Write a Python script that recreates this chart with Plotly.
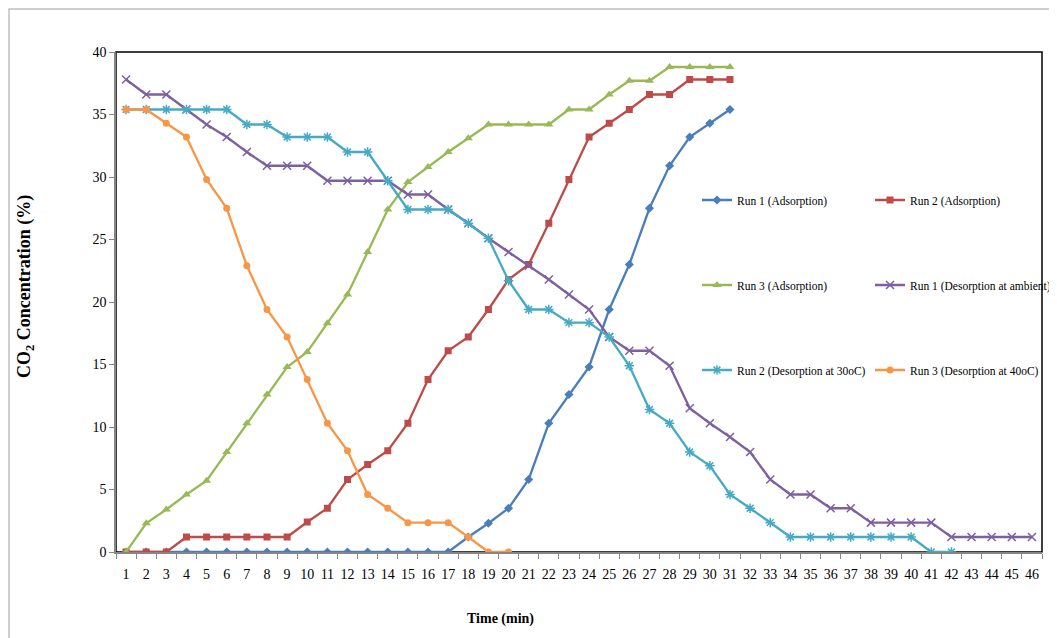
import plotly.graph_objects as go

time_labels = [str(i) for i in range(1, 47)]

run1_ads = [0, 0, 0, 0, 0, 0, 0, 0, 0, 0, 0, 0, 0, 0, 0, 0, 0, 1.2, 2.3, 3.5, 5.8, 10.3, 12.6, 14.8,
            19.4, 23.0, 27.5, 30.9, 33.2, 34.3, 35.4]
run2_ads = [0, 0, 0, 1.2, 1.2, 1.2, 1.2, 1.2, 1.2, 2.4, 3.5, 5.8, 7.0, 8.1, 10.3, 13.8, 16.1, 17.2,
            19.4, 21.8, 23.0, 26.3, 29.8, 33.2, 34.3, 35.4, 36.6, 36.6, 37.8, 37.8, 37.8]
run3_ads = [0, 2.3, 3.4, 4.6, 5.7, 8.0, 10.3, 12.6, 14.8, 16.0, 18.3, 20.6, 24.0, 27.4, 29.6, 30.8,
            32.0, 33.1, 34.2, 34.2, 34.2, 34.2, 35.4, 35.4, 36.6, 37.7, 37.7, 38.8, 38.8, 38.8, 38.8]
run1_des = [37.8, 36.6, 36.6, 35.4, 34.2, 33.2, 32.0, 30.9, 30.9, 30.9, 29.7, 29.7, 29.7, 29.7,
            28.6, 28.6, 27.4, 26.3, 25.1, 24.0, 22.9, 21.8, 20.6, 19.4, 17.2, 16.1, 16.1, 14.9,
            11.5, 10.3, 9.2, 8.0, 5.8, 4.6, 4.6, 3.5, 3.5, 2.35, 2.35, 2.35, 2.35, 1.2, 1.2, 1.2,
            1.2, 1.2]
run2_des = [35.4, 35.4, 35.4, 35.4, 35.4, 35.4, 34.2, 34.2, 33.2, 33.2, 33.2, 32.0, 32.0, 29.7,
            27.4, 27.4, 27.4, 26.3, 25.1, 21.7, 19.4, 19.4, 18.35, 18.35, 17.2, 14.9, 11.4, 10.3,
            8.0, 6.9, 4.6, 3.5, 2.35, 1.2, 1.2, 1.2, 1.2, 1.2, 1.2, 1.2, 0, 0]
run3_des = [35.4, 35.4, 34.3, 33.2, 29.8, 27.5, 22.9, 19.4, 17.2, 13.8, 10.3, 8.1, 4.6, 3.5, 2.35,
            2.35, 2.35, 1.2, 0, 0]

series = [
    ("Run 1 (Adsorption)", run1_ads, "#4A7EBB", "diamond", 7),
    ("Run 2 (Adsorption)", run2_ads, "#BE4B48", "square", 7),
    ("Run 3 (Adsorption)", run3_ads, "#98B954", "triangle-up", 8),
    ("Run 1 (Desorption at ambient)", run1_des, "#7D60A0", "x-thin-open", 8),
    ("Run 2 (Desorption at 30oC)", run2_des, "#46AAC5", "asterisk-open", 8),
    ("Run 3 (Desorption at 40oC)", run3_des, "#F79646", "circle", 7),
]

# The page body adds an 8px offset; figure is sized so the plot area lands at
# page x 116..1042 and y 52..552.
OFF = 8
L, R, T, B = 108, 15, 44, 86
W, H = 1049, 630
pw, ph = W - L - R, H - T - B


def px(x):
    return (x - OFF - L) / pw


def py(y):
    return (H - B + OFF - y) / ph


legend_ids = ["legend", "legend2", "legend3", "legend4", "legend5", "legend6"]

fig = go.Figure()
for (name, vals, color, sym, size), leg in zip(series, legend_ids):
    marker = dict(symbol=sym, size=size, color=color)
    if sym.endswith("-open"):
        marker["line"] = dict(width=1.5, color=color)
    fig.add_trace(go.Scatter(
        x=time_labels[:len(vals)], y=vals, name=name, mode="lines+markers",
        line=dict(color=color, width=2.3), marker=marker, legend=leg,
    ))

legfont = dict(family="Liberation Serif", size=11.5, color="#000000")
col_x = [px(697), px(870)]
row_y = [py(200), py(285), py(370)]
legends = {}
for k, leg in enumerate(legend_ids):
    legends[leg] = dict(orientation="v", xanchor="left", yanchor="middle", font=legfont,
                        bgcolor="rgba(0,0,0,0)", itemwidth=30,
                        x=col_x[k % 2], y=row_y[k // 2])

fig.update_layout(
    width=W, height=H,
    showlegend=True,
    margin=dict(l=L, r=R, t=T, b=B, autoexpand=False),
    paper_bgcolor="white", plot_bgcolor="white",
    font=dict(family="Liberation Serif", size=14, color="#000000"),
    xaxis=dict(type="category", categoryorder="array", categoryarray=time_labels,
               range=[-0.5, 45.5], tickangle=0, automargin=False,
               tickson="boundaries", ticks="outside", ticklen=5, tickcolor="#868686",
               ticklabelstandoff=8,
               showline=True, linecolor="#868686", linewidth=1.5, showgrid=False,
               zeroline=False, tickfont=dict(family="Liberation Serif", size=14)),
    yaxis=dict(range=[0, 40], dtick=5, ticks="outside", ticklen=5, tickcolor="#868686",
               showline=True, linecolor="#868686", linewidth=1.5, showgrid=False,
               zeroline=False, automargin=False,
               tickfont=dict(family="Liberation Serif", size=14)),
    shapes=[
        dict(type="rect", xref="paper", yref="paper", x0=0, x1=1, y0=0, y1=1,
             line=dict(color="#000000", width=1.5), layer="below"),
        dict(type="rect", xref="paper", yref="paper", x0=px(9), x1=px(1080), y0=py(660),
             y1=py(9), line=dict(color="#BFBFBF", width=1.5), layer="below"),
    ],
    annotations=[
        dict(text="<b>Time (min)</b>", xref="paper", yref="paper", x=px(500), y=py(619),
             xanchor="center", yanchor="middle", showarrow=False,
             font=dict(family="Liberation Serif", size=14)),
        dict(text="<b>CO<sub>2</sub> Concentration (%)</b>", xref="paper", yref="paper",
             x=px(25), y=py(287), xanchor="center", yanchor="middle", textangle=-90,
             showarrow=False, font=dict(family="Liberation Serif", size=18)),
    ],
    **legends,
)

fig.write_html("out.html")
